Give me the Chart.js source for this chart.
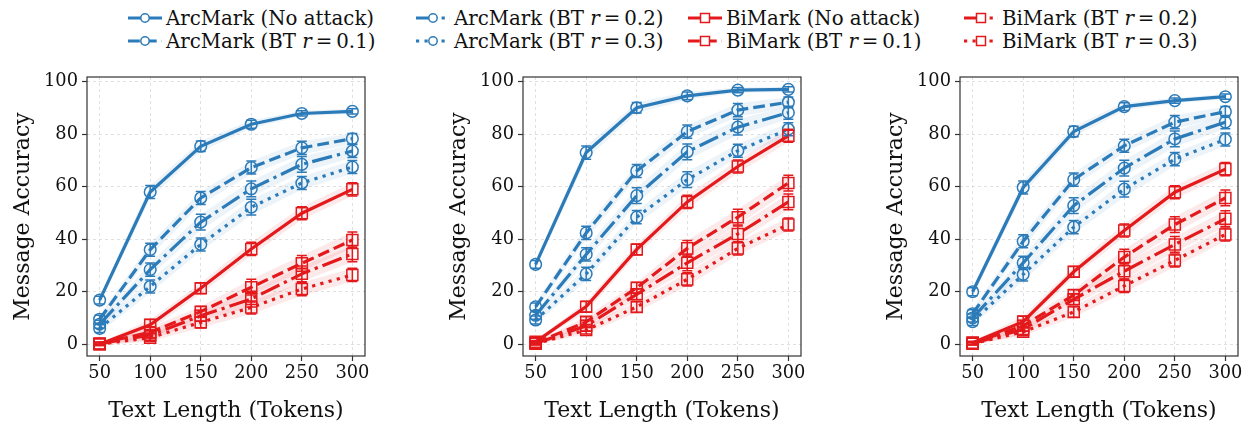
<!DOCTYPE html>
<html>
<head>
<meta charset="utf-8">
<script src="https://cdn.jsdelivr.net/npm/chart.js@4.4.1/dist/chart.umd.min.js"></script>
<style>
  body { margin: 0; width: 1252px; height: 424px; background: #fff; position: relative; overflow: hidden; font-family: 'DejaVu Serif', serif; }
  .panel { position: absolute; top: 60px; width: 380px; height: 364px; }
  .item { position: absolute; display: flex; align-items: center; height: 24px; font-size: 19.8px; color: #111; white-space: nowrap; }
  .item svg { margin-right: 4px; }
</style>
</head>
<body>
<div id="legend"></div>
<div class="panel" style="left:0px"><canvas id="c1" width="380" height="364"></canvas></div>
<div class="panel" style="left:436px"><canvas id="c2" width="380" height="364"></canvas></div>
<div class="panel" style="left:873px"><canvas id="c3" width="380" height="364"></canvas></div>
<script>
const xTicks = [50, 100, 150, 200, 250, 300]
const yTicks = [0, 20, 40, 60, 80, 100]

const seriesNames = [
  'ArcMark (No attack)', 'ArcMark (BT r=0.1)', 'ArcMark (BT r=0.2)', 'ArcMark (BT r=0.3)',
  'BiMark (No attack)', 'BiMark (BT r=0.1)', 'BiMark (BT r=0.2)', 'BiMark (BT r=0.3)',
]

// panel 1
const p1ArcNone = [16.8, 58.0, 75.4, 83.8, 87.9, 88.7]
const p1Arc01 = [9.5, 36.0, 55.7, 67.3, 74.8, 78.3]
const p1Arc02 = [7.6, 28.4, 46.5, 59.2, 68.5, 73.6]
const p1Arc03 = [6.0, 22.0, 38.0, 52.2, 61.4, 67.5]
const p1BiNone = [0.0, 7.4, 21.3, 36.3, 49.9, 59.0]
const p1Bi01 = [0.3, 4.5, 12.4, 21.7, 30.8, 39.7]
const p1Bi02 = [0.2, 3.5, 10.8, 17.2, 26.8, 34.4]
const p1Bi03 = [0.0, 2.5, 8.3, 14.0, 21.0, 26.4]

// panel 2
const p2ArcNone = [30.4, 73.0, 90.1, 94.6, 96.8, 97.1]
const p2Arc01 = [14.2, 42.4, 66.0, 81.0, 89.2, 92.2]
const p2Arc02 = [11.0, 34.2, 56.6, 73.3, 82.7, 88.2]
const p2Arc03 = [9.2, 26.8, 48.4, 62.7, 73.7, 81.9]
const p2BiNone = [0.9, 14.3, 36.1, 54.2, 67.7, 79.4]
const p2Bi01 = [0.5, 8.5, 21.5, 36.5, 48.4, 61.4]
const p2Bi02 = [0.3, 7.0, 19.0, 31.0, 42.0, 54.2]
const p2Bi03 = [0.2, 5.4, 14.2, 24.7, 36.5, 45.6]

// panel 3
const p3ArcNone = [20.0, 59.7, 81.0, 90.5, 92.8, 94.3]
const p3Arc01 = [11.6, 39.2, 62.7, 75.6, 84.6, 88.6]
const p3Arc02 = [10.0, 31.0, 52.8, 67.1, 78.2, 84.6]
const p3Arc03 = [8.6, 26.6, 44.6, 59.1, 70.5, 78.0]
const p3BiNone = [0.6, 8.6, 27.6, 43.3, 57.9, 66.7]
const p3Bi01 = [0.4, 7.0, 18.7, 33.2, 45.6, 55.7]
const p3Bi02 = [0.3, 5.7, 17.1, 27.8, 38.0, 47.8]
const p3Bi03 = [0.2, 4.7, 12.3, 22.2, 31.9, 41.8]

// error bars (same spread used for the shaded band)
const errArcNone = [1.5, 2.5, 2.0, 1.5, 1.0, 1.0]
const errArc01 = [1.5, 2.5, 2.5, 2.5, 2.5, 2.0]
const errArc02 = [1.5, 2.5, 3.0, 3.0, 3.0, 2.5]
const errArc03 = [1.5, 2.5, 2.5, 3.0, 2.5, 2.5]
const errBiNone = [0.5, 2.0, 2.0, 2.5, 2.5, 2.5]
const errBi01 = [0.5, 2.0, 2.0, 3.0, 3.0, 3.0]
const errBi02 = [0.5, 2.0, 2.0, 3.0, 3.0, 3.0]
const errBi03 = [0.5, 1.5, 2.0, 2.5, 2.5, 2.5]

const panels = [
  [p1ArcNone, p1Arc01, p1Arc02, p1Arc03, p1BiNone, p1Bi01, p1Bi02, p1Bi03],
  [p2ArcNone, p2Arc01, p2Arc02, p2Arc03, p2BiNone, p2Bi01, p2Bi02, p2Bi03],
  [p3ArcNone, p3Arc01, p3Arc02, p3Arc03, p3BiNone, p3Bi01, p3Bi02, p3Bi03],
]
const errs = [errArcNone, errArc01, errArc02, errArc03, errBiNone, errBi01, errBi02, errBi03]

const BLUE = '#2c7bb9'
const RED = '#e3191c'
const LW = 3.2
const dashes = [[], [11.8, 5.1], [20.5, 5.1, 3.2, 5.1], [3.2, 5.3]]
const FONT = "'DejaVu Serif', serif"

function seriesColor(i) { return i < 4 ? BLUE : RED }
function bandColor(i) { return i < 4 ? 'rgba(44,123,185,0.09)' : 'rgba(227,25,28,0.09)' }
function toPts(vals) { return vals.map((v, j) => ({ x: xTicks[j], y: v })) }

// legend, column-major like matplotlib
const legend = document.getElementById('legend')
const colLeft = [128, 416, 688, 964]
const rowMid = [18, 41]
seriesNames.forEach((name, i) => {
  const col = Math.floor(i / 2), row = i % 2
  const c = seriesColor(i)
  const d = dashes[i % 4].join(',')
  const marker = i < 4
    ? `<circle cx="17" cy="12" r="4.2" fill="#fff" stroke="${c}" stroke-width="1.5"/>`
    : `<rect x="12.5" y="7.5" width="9" height="9" fill="#fff" stroke="${c}" stroke-width="1.5"/>`
  const label = name.replace(/r=(0\.\d)/, '<i>r</i>\u2009=\u2009$1')
  const div = document.createElement('div')
  div.className = 'item'
  div.style.left = colLeft[col] + 'px'
  div.style.top = (rowMid[row] - 12) + 'px'
  div.innerHTML = `<svg width="34" height="24"><line x1="0" y1="12" x2="34" y2="12" stroke="${c}" stroke-width="${LW}" stroke-dasharray="${d}"/>${marker}</svg><span>${label}</span>`
  legend.appendChild(div)
})

const errorBars = {
  id: 'errorBars',
  afterDatasetsDraw(chart) {
    const ctx = chart.ctx
    const xs = chart.scales.x, ys = chart.scales.y
    chart.data.datasets.forEach(ds => {
      if (!ds.errs) return
      ctx.save()
      ctx.strokeStyle = ds.borderColor
      ctx.lineWidth = 1.5
      ds.data.forEach((p, j) => {
        const px = xs.getPixelForValue(p.x)
        const top = ys.getPixelForValue(p.y + ds.errs[j])
        const bot = ys.getPixelForValue(p.y - ds.errs[j])
        ctx.beginPath()
        ctx.moveTo(px, top); ctx.lineTo(px, bot)
        ctx.moveTo(px - 5, top); ctx.lineTo(px + 5, top)
        ctx.moveTo(px - 5, bot); ctx.lineTo(px + 5, bot)
        ctx.stroke()
      })
      ctx.restore()
    })
  },
}

const frame = {
  id: 'frame',
  afterDatasetsDraw(chart) {
    const a = chart.chartArea, ctx = chart.ctx
    ctx.save()
    ctx.strokeStyle = '#333'
    ctx.lineWidth = 1.2
    ctx.strokeRect(a.left, a.top, a.right - a.left, a.bottom - a.top)
    ctx.restore()
  },
}

function makeDatasets(series) {
  const out = []
  series.forEach((vals, i) => {
    const e = errs[i]
    out.push({
      data: toPts(vals.map((v, j) => v + e[j])),
      borderWidth: 0, pointRadius: 0, fill: false, order: 3,
    })
    out.push({
      data: toPts(vals.map((v, j) => v - e[j])),
      borderWidth: 0, pointRadius: 0, fill: '-1', backgroundColor: bandColor(i), order: 3,
    })
  })
  series.forEach((vals, i) => {
    const c = seriesColor(i)
    out.push({
      label: seriesNames[i],
      data: toPts(vals),
      errs: errs[i],
      borderColor: c,
      borderWidth: LW,
      borderDash: dashes[i % 4],
      borderCapStyle: 'butt',
      fill: false,
      tension: 0,
      pointStyle: i < 4 ? 'circle' : 'rect',
      pointRadius: i < 4 ? 5.8 : 7.8,
      pointBorderWidth: 1.5,
      pointBorderColor: c,
      pointBackgroundColor: 'rgba(255,255,255,0)',
      order: i < 4 ? 2 : 1,
    })
  })
  return out
}

function makeChart(id, series) {
  return new Chart(document.getElementById(id), {
    type: 'line',
    data: { datasets: makeDatasets(series) },
    plugins: [errorBars, frame],
    options: {
      responsive: false,
      animation: false,
      layout: { padding: { top: 17, right: 15, left: 0, bottom: 0 } },
      plugins: { legend: { display: false }, tooltip: { enabled: false } },
      scales: {
        x: {
          type: 'linear',
          min: 37.5,
          max: 312.5,
          afterBuildTicks: s => { s.ticks = xTicks.map(v => ({ value: v })) },
          afterFit: s => { s.height = 68 },
          grid: { color: '#d9d9d9', lineWidth: 0.8, tickColor: '#333', tickLength: 5, tickWidth: 1.2 },
          border: { display: false, dash: [3, 3] },
          ticks: { color: '#111', font: { family: FONT, size: 17.8 }, padding: 2, maxRotation: 0 },
          title: { display: true, text: 'Text Length (Tokens)', color: '#111', font: { family: FONT, size: 22 }, padding: { top: 12, bottom: 0 } },
        },
        y: {
          min: -4.5,
          max: 101.8,
          afterBuildTicks: s => { s.ticks = yTicks.map(v => ({ value: v })) },
          afterFit: s => { s.width = 87 },
          grid: { color: '#d9d9d9', lineWidth: 0.8, tickColor: '#333', tickLength: 5, tickWidth: 1.2 },
          border: { display: false, dash: [3, 3] },
          ticks: { color: '#111', font: { family: FONT, size: 17.8 }, padding: 4 },
          title: { display: true, text: 'Message Accuracy', color: '#111', font: { family: FONT, size: 22 }, padding: { top: 10, bottom: 0 } },
        },
      },
    },
  })
}

makeChart('c1', panels[0])
makeChart('c2', panels[1])
makeChart('c3', panels[2])
</script>
</body>
</html>
